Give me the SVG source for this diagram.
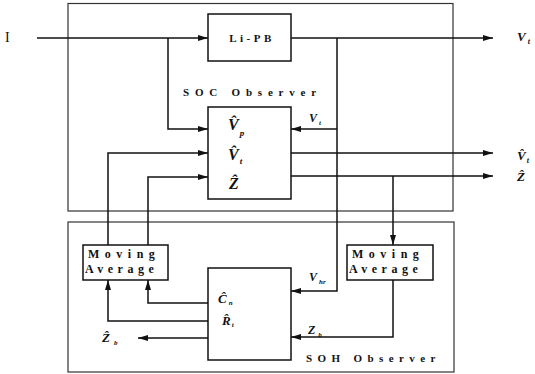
<svg xmlns="http://www.w3.org/2000/svg" width="535" height="374" viewBox="0 0 535 374">
<style>
.frame{fill:none;stroke:#333;stroke-width:1.2}
.box{fill:#fff;stroke:#111;stroke-width:1.5}
.ln{fill:none;stroke:#111;stroke-width:1.5}
.bt{font-family:'Liberation Serif','Times New Roman',serif;font-weight:bold;fill:#111}
.mt{font-family:'Liberation Serif','Times New Roman',serif;font-style:italic;font-weight:bold;fill:#111}
</style>
<defs>
<marker id="ah" viewBox="0 0 10 6" refX="10" refY="3" markerWidth="10" markerHeight="6" markerUnits="userSpaceOnUse" orient="auto">
<path d="M0,0 L10,3 L0,6 z" fill="#111"/>
</marker>
</defs>
<rect width="535" height="374" fill="#fff"/>
<g id="soc-observer">
<rect class="frame" x="68" y="3.5" width="385" height="207.5"/>
<text class="bt" x="183" y="96" font-size="11" letter-spacing="5.8">SOC Observer</text>
</g>
<g id="soh-observer">
<rect class="frame" x="68" y="222" width="386" height="150"/>
<text class="bt" x="306" y="362" font-size="11" letter-spacing="5.4">SOH Observer</text>
</g>
<g id="input-I">
<text x="5" y="42" font-family="'Liberation Serif',serif" font-size="14" fill="#111">I</text>
</g>
<g id="li-pb">
<rect class="box" x="208" y="14" width="83" height="47"/>
<text class="bt" x="252" y="42" font-size="11" letter-spacing="3.5" text-anchor="middle">Li-PB</text>
</g>
<g id="soc-block">
<rect class="box" x="208" y="107" width="83" height="92"/>
<text class="mt" x="228" y="130" font-size="16">V&#x302;<tspan font-size="9" dx="1" dy="6">p</tspan></text>
<text class="mt" x="228" y="160" font-size="16">V&#x302;<tspan font-size="9" dx="1" dy="4">t</tspan></text>
<text class="mt" x="229" y="189" font-size="16">Z&#x302;</text>
</g>
<g id="soh-block">
<rect class="box" x="208" y="268" width="83" height="92"/>
<text class="mt" x="218" y="303" font-size="13">C&#x302;<tspan font-size="7" dx="2" dy="2">n</tspan></text>
<text class="mt" x="222" y="325" font-size="13">R&#x302;<tspan font-size="7" dx="1" dy="2">t</tspan></text>
</g>
<g id="ma-left">
<rect class="box" x="83" y="245" width="85" height="35"/>
<text class="bt" x="88" y="258" font-size="12" letter-spacing="5.5">Moving</text>
<text class="bt" x="85" y="273" font-size="12" letter-spacing="4.5">Average</text>
</g>
<g id="ma-right">
<rect class="box" x="347" y="245" width="86" height="35"/>
<text class="bt" x="352" y="258" font-size="12" letter-spacing="5.5">Moving</text>
<text class="bt" x="349" y="273" font-size="12" letter-spacing="4.5">Average</text>
</g>
<g id="labels">
<text class="mt" x="309" y="122" font-size="12">V<tspan font-size="7" dx="2" dy="3">t</tspan></text>
<text class="mt" x="309" y="281" font-size="12">V<tspan font-size="7" dx="2" dy="3">hr</tspan></text>
<text class="mt" x="308" y="334" font-size="12">Z<tspan font-size="7" dx="3" dy="3">b</tspan></text>
<text class="mt" x="102" y="342" font-size="13">Z&#x302;<tspan font-size="7" dx="4" dy="3">b</tspan></text>
<text class="mt" x="517" y="41" font-size="13">V<tspan font-size="8" dx="2" dy="3">t</tspan></text>
<text class="mt" x="517" y="160" font-size="13">V&#x302;<tspan font-size="8" dx="1" dy="3">t</tspan></text>
<text class="mt" x="517" y="181" font-size="13">Z&#x302;</text>
</g>
<g id="connectors">
<path class="ln" d="M37,38 H208" marker-end="url(#ah)"/>
<path class="ln" d="M168,38 V129 H208" marker-end="url(#ah)"/>
<path class="ln" d="M291,38 H493" marker-end="url(#ah)"/>
<path class="ln" d="M337,38 V291 H291" marker-end="url(#ah)"/>
<path class="ln" d="M337,129 H291" marker-end="url(#ah)"/>
<path class="ln" d="M291,153 H493" marker-end="url(#ah)"/>
<path class="ln" d="M291,176 H493" marker-end="url(#ah)"/>
<path class="ln" d="M393,176 V245" marker-end="url(#ah)"/>
<path class="ln" d="M108,245 V153 H208" marker-end="url(#ah)"/>
<path class="ln" d="M148,245 V177 H208" marker-end="url(#ah)"/>
<path class="ln" d="M208,303 H148 V280" marker-end="url(#ah)"/>
<path class="ln" d="M208,321 H108 V280" marker-end="url(#ah)"/>
<path class="ln" d="M208,338 H138" marker-end="url(#ah)"/>
<path class="ln" d="M393,280 V337 H291" marker-end="url(#ah)"/>
</g>
</svg>
